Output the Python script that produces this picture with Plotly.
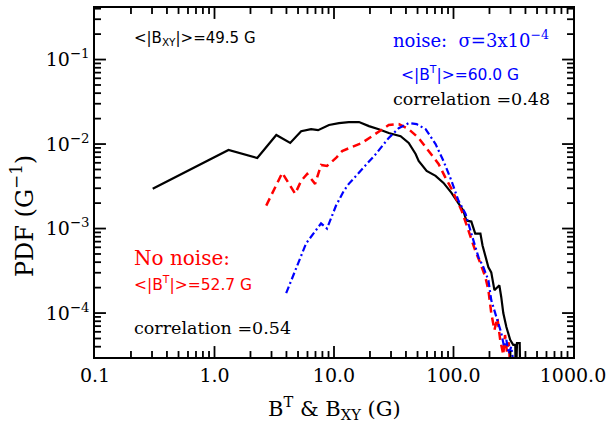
import plotly.graph_objects as go

# ---- data ----
black_x = [0.304, 1.31, 2.28, 3.29, 4.30, 5.31, 6.43, 7.36, 9.08, 11.0, 13.3, 16.2, 19.6, 23.7,
           28.7, 36.1, 42.2, 48.2, 51.1, 59.6, 70.8, 82.5, 96.2, 106, 121, 128, 141, 152, 168,
           175, 185, 196, 207, 220, 233, 242, 251, 261, 277, 298, 316, 329, 332, 340, 358, 363]
black_y = [2.96e-3, 8.5e-3, 6.84e-3, 1.28e-2, 1.03e-2, 1.42e-2, 1.50e-2, 1.46e-2, 1.68e-2, 1.77e-2,
           1.82e-2, 1.82e-2, 1.63e-2, 1.50e-2, 1.35e-2, 1.24e-2, 1.03e-2, 7.63e-3, 6.3e-3, 4.81e-3,
           4.2e-3, 3.47e-3, 2.65e-3, 2.14e-3, 1.63e-3, 1.24e-3, 1.21e-3, 8.73e-4, 8.73e-4, 6.3e-4,
           4.56e-4, 3.48e-4, 3.03e-4, 1.87e-4, 2.02e-4, 2.13e-4, 1.54e-4, 1.0e-4, 6.84e-5, 4.81e-5,
           4.2e-5, 4.2e-5, 1.5e-5, 4.4e-5, 4.4e-5, 1.5e-5]

red_x = [2.71, 3.69, 4.73, 5.31, 5.96, 6.95, 7.79, 8.74, 10.4, 11.7, 17.1, 20.7, 28.7, 34.8, 42.2,
         51.1, 61.9, 75.0, 85.8, 96.2, 117, 133, 152, 168, 185, 196, 207, 220, 233, 246, 261, 270,
         280, 290, 300]
red_y = [1.87e-3, 4.56e-3, 2.58e-3, 3.67e-3, 4.44e-3, 3.38e-3, 5.66e-3, 5.51e-3, 6.84e-3, 8.28e-3,
         1.03e-2, 1.24e-2, 1.68e-2, 1.72e-2, 1.50e-2, 1.18e-2, 8.28e-3, 5.82e-3, 3.98e-3, 2.96e-3,
         1.63e-3, 9.46e-4, 5.51e-4, 3.87e-4, 2.65e-4, 1.87e-4, 1.0e-4, 6.3e-5, 8.73e-5, 4.81e-5,
         3.2e-5, 5.5e-5, 3.5e-5, 4.5e-5, 2.0e-5]

blue_x = [3.98, 5.84, 7.79, 8.74, 10.4, 12.1, 13.3, 17.1, 22.4, 28.7, 34.8, 42.2, 49.2, 58.4, 70.8,
          82.5, 96.2, 110, 126, 141, 162, 178, 196, 207, 224, 237, 251, 265, 277, 290, 304, 315, 329]
blue_y = [1.72e-4, 6.67e-4, 1.15e-3, 1.0e-3, 1.87e-3, 2.80e-3, 3.38e-3, 5.08e-3, 7.63e-3, 1.18e-2,
          1.54e-2, 1.77e-2, 1.72e-2, 1.50e-2, 1.0e-2, 6.3e-3, 3.67e-3, 2.14e-3, 1.50e-3, 8.73e-4,
          4.56e-4, 3.48e-4, 2.44e-4, 1.42e-4, 1.0e-4, 7.63e-5, 5.82e-5, 4.0e-5, 4.81e-5, 3.3e-5,
          3.98e-5, 2.8e-5, 3.0e-5]

x_tickvals = [0.1, 1, 10, 100, 1000]
x_ticktext = ["0.1", "1.0", "10.0", "100.0", "1000.0"]
y_tickvals = [1e-4, 1e-3, 1e-2, 1e-1]
y_ticktext = ["10<sup>\u22124</sup>", "10<sup>\u22123</sup>", "10<sup>\u22122</sup>", "10<sup>\u22121</sup>"]

# minor tick positions (2..9 within each decade)
x_minor = [m * d for d in [0.1, 1, 10, 100] for m in range(2, 10)]
y_minor = [m * d for d in [1e-5, 1e-4, 1e-3, 1e-2, 1e-1] for m in range(2, 10)]

X_RANGE = [-1, 3]
Y_RANGE = [-4.52, -0.39]

SERIF = "DejaVu Serif"
SANS = "DejaVu Sans"

# plot-area geometry (pixels)
ML, MR, MT, MB = 95, 37, 6, 69
W, H = 612, 426
PW, PH = W - ML - MR, H - MT - MB

fig = go.Figure()
fig.add_trace(go.Scatter(x=black_x, y=black_y, mode="lines",
                         line=dict(color="black", width=2.2), showlegend=False))
fig.add_trace(go.Scatter(x=red_x, y=red_y, mode="lines",
                         line=dict(color="#ff0000", width=2.5, dash="8px,5px"), showlegend=False))
fig.add_trace(go.Scatter(x=blue_x, y=blue_y, mode="lines",
                         line=dict(color="#0000ff", width=2.2, dash="7px,3px,2px,3px"), showlegend=False))

# ---- inside tick marks on all four sides, built as one line trace through the log scales ----
xlo, xhi = 10 ** X_RANGE[0], 10 ** X_RANGE[1]
ylo, yhi = 10 ** Y_RANGE[0], 10 ** Y_RANGE[1]
ydec_per_px = (Y_RANGE[1] - Y_RANGE[0]) / PH
xdec_per_px = (X_RANGE[1] - X_RANGE[0]) / PW
tx_, ty_ = [], []
for vals, ln in ((x_tickvals, 11), (x_minor, 6)):
    for v in vals:
        if xlo < v < xhi:
            tx_ += [v, v, None, v, v, None]
            ty_ += [ylo, ylo * 10 ** (ln * ydec_per_px), None, yhi, yhi / 10 ** (ln * ydec_per_px), None]
for vals, ln in ((y_tickvals, 11), (y_minor, 6)):
    for v in vals:
        if ylo < v < yhi:
            tx_ += [xlo, xlo * 10 ** (ln * xdec_per_px), None, xhi, xhi / 10 ** (ln * xdec_per_px), None]
            ty_ += [v, v, None, v, v, None]
fig.add_trace(go.Scatter(x=tx_, y=ty_, mode="lines", line=dict(color="black", width=1.8),
                         hoverinfo="skip", showlegend=False, connectgaps=False))

axis_common = dict(showline=True, linecolor="black", linewidth=1.5, mirror=True,
                   ticks="", showgrid=False, zeroline=False)

fig.update_layout(
    xaxis=dict(type="log", range=X_RANGE, tickmode="array", tickvals=x_tickvals, ticktext=x_ticktext,
               tickfont=dict(family=SERIF, size=19, color="black"), **axis_common),
    yaxis=dict(type="log", range=Y_RANGE, tickmode="array", tickvals=y_tickvals, ticktext=y_ticktext,
               tickfont=dict(family=SERIF, size=19, color="black"), **axis_common),
)

def px2paper(px, py):
    return (px - ML) / PW, (H - MB - py) / PH

annots = [
    ("&lt;|B<sub>XY</sub>|&gt;=49.5 G", 132, 37, "black", SANS, 15),
    ("noise:  \u03c3=3x10<sup>\u22124</sup>", 392, 37, "#0000ff", SERIF, 18),
    ("&lt;|B<sup>T</sup>|&gt;=60.0 G", 400, 72, "#0000ff", SANS, 15.5),
    ("correlation =0.48", 392, 98, "black", SERIF, 17.5),
    ("No noise:", 132, 257, "#ff0000", SERIF, 20),
    ("&lt;|B<sup>T</sup>|&gt;=52.7 G", 132, 283, "#ff0000", SANS, 15.5),
    ("correlation =0.54", 132, 328, "black", SERIF, 17.5),
]
for txt, px, py, col, fam, sz in annots:
    ax, ay = px2paper(px, py)
    fig.add_annotation(text=txt, x=ax, y=ay, xref="paper", yref="paper",
                       xanchor="left", yanchor="middle", showarrow=False,
                       font=dict(family=fam, size=sz, color=col))

# axis titles
tx, ty = px2paper(335, 408)
fig.add_annotation(text="B<sup>T</sup> &amp; B<sub>XY</sub> (G)", x=tx, y=ty, xref="paper", yref="paper",
                   xanchor="center", yanchor="middle", showarrow=False,
                   font=dict(family=SERIF, size=21, color="black"))
tx, ty = px2paper(22, 215)
fig.add_annotation(text="PDF (G<sup>\u22121</sup>)", x=tx, y=ty, xref="paper", yref="paper",
                   xanchor="center", yanchor="middle", showarrow=False, textangle=-90,
                   font=dict(family=SERIF, size=24, color="black"))

fig.update_layout(width=W, height=H, margin=dict(l=ML, r=MR, t=MT, b=MB),
                  paper_bgcolor="white", plot_bgcolor="white")

fig.write_html("out.html")
